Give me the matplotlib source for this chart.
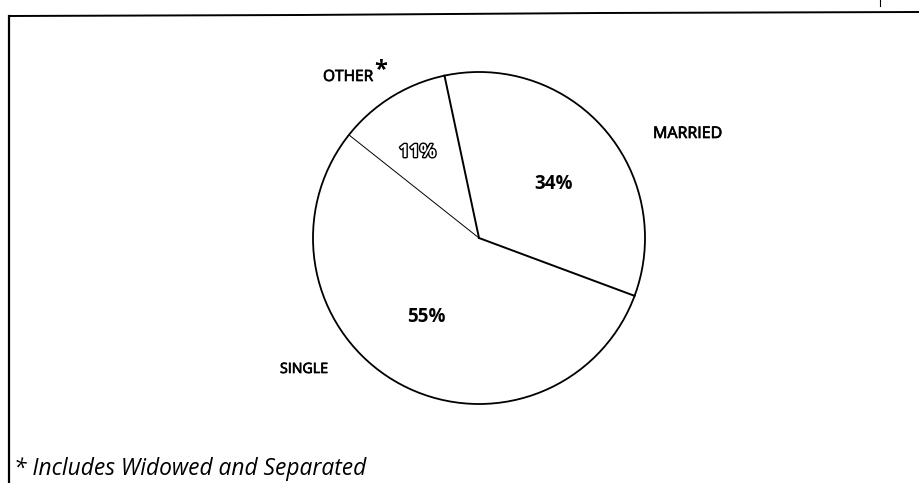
import numpy as np
import matplotlib.pyplot as plt
import matplotlib.patheffects as pe

labels = ['MARRIED', 'SINGLE', 'OTHER']
shares = [34, 55, 11]
pct_text = ['34%', '55%', '11%']
note = '* Includes Widowed and Separated'

plt.rcParams['font.family'] = ['Open Sans', 'DejaVu Sans']

W, H = 919, 483
fig = plt.figure(figsize=(W / 100, H / 100), dpi=100)
ax = fig.add_axes([0, 0, 1, 1])

cx, cy, r = 479, H - 238, 166
start = 102

ax.pie(shares, startangle=start, counterclock=False, center=(cx, cy),
       radius=r, colors=['white'] * 3, wedgeprops=dict(edgecolor='none'))
ax.set_xlim(0, W)
ax.set_ylim(0, H)
ax.set_aspect('equal')
ax.axis('off')

# outline and dividing lines (the SINGLE/OTHER one is thinner in the print)
ax.add_patch(plt.Circle((cx, cy), r, fill=False, color='black', lw=1.3))
angle = start
for s, lw in zip([0] + shares[:-1], [1.4, 1.4, 0.7]):
    angle -= s * 3.6
    a = np.deg2rad(angle)
    ax.plot([cx, cx + r * np.cos(a)], [cy, cy + r * np.sin(a)], color='black', lw=lw)

renderer = fig.canvas.get_renderer()


def fit(s, x0, x1, yb, size, **kw):
    # put text with its left edge at x0 and scale it to end at x1 (pixels, y from top)
    t = ax.text(x0, H - yb, s, fontsize=size, ha='left', va='baseline', **kw)
    w = t.get_window_extent(renderer).width
    t.set_fontsize(size * (x1 - x0) / w)
    return t


lab_fx = [pe.withStroke(linewidth=0.5, foreground='black')]
fit(labels[0], 653, 722, 138, 11, path_effects=lab_fx)
fit(labels[1], 280, 328, 373, 11, path_effects=lab_fx)
fit(labels[2], 323, 373, 81, 11, path_effects=lab_fx)
ax.text(374, H - 76, '*', fontsize=17, fontweight='bold', ha='left', va='baseline')

fit(pct_text[0], 534, 572, 189, 13, fontweight='bold')
fit(pct_text[1], 407, 445, 322, 13, fontweight='bold')
fit(pct_text[2], 399, 436, 157, 13, fontweight='bold', color='white',
    path_effects=[pe.withStroke(linewidth=2, foreground='black')])

fit(note, 14, 369, 475, 14, style='italic')

# frame from the printed page
ax.plot([9, 9], [H - 16, 0], color='black', lw=1.6)
ax.plot([9, 300, 600, W], [H - 16, H - 15, H - 13, H - 12], color='black', lw=1.4)
ax.plot([880, 880], [H, H - 6], color='black', lw=0.8)

fig.savefig('out.png', dpi=100)
